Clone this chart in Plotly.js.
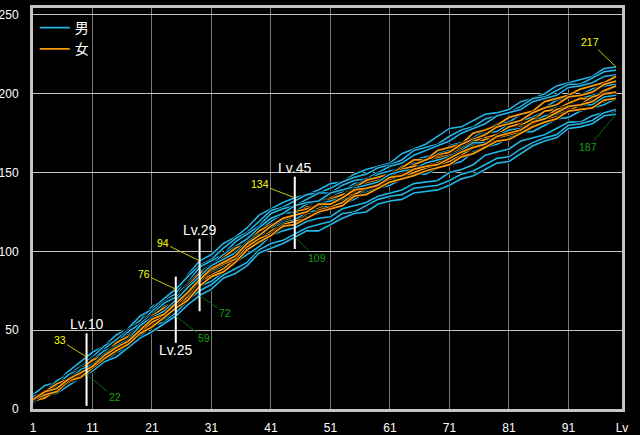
<!DOCTYPE html>
<html><head><meta charset="utf-8">
<script src="https://cdn.plot.ly/plotly-3.0.1.min.js"></script>
<style>html,body{margin:0;padding:0;background:#000;}#chart{width:640px;height:435px;}</style>
</head><body><div id="chart"></div>
<script>
// Levels sampled (odd levels)
const levels = [1,3,5,7,9,11,13,15,17,19,21,23,25,27,29,31,33,35,37,39,41,43,45,47,49,51,53,55,57,59,61,63,65,67,69,71,73,75,77,79,81,83,85,87,89,91,93,95,97,99];

// 男 (male) series
const male1 = [9,15,17,24,30,36,40,47,51,56,65,69,73,85,94,98,105,109,115,123,127,131,134,136,139,143,144,149,152,154,156,162,165,168,173,178,179,183,187,188,190,195,197,200,205,207,209,211,216,217];
const male2 = [8,11,18,22,27,33,40,44,51,59,63,70,76,84,91,95,102,108,112,119,126,128,132,136,137,140,144,147,149,153,155,158,164,166,168,173,177,179,184,186,188,192,197,198,202,206,206,210,214,215];
const male3 = [8,11,15,22,27,31,38,44,50,54,62,68,71,80,90,94,98,106,111,116,124,127,129,133,137,137,142,145,146,150,154,156,161,164,167,170,175,178,181,186,188,190,195,197,199,204,205,207,211,212];
const male4 = [5,11,15,21,25,32,36,42,49,54,60,67,71,77,86,92,95,101,108,113,119,124,125,130,132,134,138,143,144,149,151,153,158,160,162,167,169,172,177,181,182,187,189,191,196,198,199,203,205,206];
const male5 = [5,10,12,19,25,28,35,40,44,53,58,62,69,77,84,91,95,99,106,111,115,120,124,125,130,132,134,140,142,144,149,151,152,156,158,160,164,169,169,173,177,178,182,186,187,192,193,193,198,199];
const male6 = [8,10,14,20,23,27,34,38,44,50,55,59,65,74,80,86,92,95,101,108,112,115,120,122,124,129,130,133,138,140,142,146,149,149,153,155,157,163,166,168,172,176,176,180,184,185,189,191,193,197];
const male7 = [5,10,12,16,22,26,30,37,41,46,54,57,61,69,78,81,87,93,98,103,110,113,115,119,121,122,127,129,131,135,137,139,143,144,145,150,152,155,161,163,165,170,172,174,178,182,182,186,188,189];
const male8 = [5,8,10,17,20,24,30,36,39,46,53,55,61,69,75,79,85,89,93,101,105,107,111,115,117,119,124,125,129,133,135,136,140,141,142,145,149,151,155,159,160,165,169,172,174,180,181,183,188,190];
const male9 = [4,8,10,15,20,24,30,33,39,45,49,54,59,66,72,76,83,86,91,99,102,105,109,113,113,117,121,124,125,130,132,133,137,138,139,142,146,148,152,156,157,162,167,170,172,178,179,181,186,187];
const male10 = [5,10,15,19,26,30,34,42,46,52,59,65,68,79,87,91,98,103,108,115,121,124,129,131,132,137,139,141,146,147,149,154,156,157,162,164,166,171,175,176,181,183,185,189,191,193,197,199,201,205];
const male11 = [8,10,15,22,25,31,37,40,47,52,57,63,67,74,83,87,91,98,102,109,115,118,120,125,126,130,133,135,139,143,144,148,151,152,154,159,160,166,170,172,174,179,180,184,188,190,192,196,198,199];

// 女 (female) series
const female1 = [5,10,12,18,24,27,33,40,44,50,58,62,66,75,84,87,93,100,104,112,116,120,124,128,129,134,136,140,145,147,149,153,158,158,164,166,168,175,177,180,185,187,189,195,197,199,203,205,207,211];
const female2 = [5,8,11,18,22,26,33,38,42,51,56,60,67,72,81,87,90,96,104,109,113,119,120,124,128,130,134,139,141,144,149,150,155,158,161,163,168,171,174,179,181,183,188,191,193,198,199,201,206,208];
const female3 = [5,11,14,18,25,29,33,41,45,50,59,62,68,77,83,89,95,98,105,111,114,119,123,125,127,132,134,137,142,143,147,151,153,155,160,161,165,170,172,174,179,181,183,189,190,194,197,197,202,205];
const female4 = [5,8,14,17,21,28,32,37,44,48,53,60,64,71,81,85,89,95,103,107,113,118,119,124,126,128,134,137,139,143,147,148,153,154,156,161,163,166,172,174,176,180,184,185,190,192,193,198,200,201];
const female5 = [5,7,12,17,20,26,32,37,41,49,55,59,66,73,81,88,92,95,103,108,111,117,119,121,126,128,131,136,140,141,146,148,150,153,155,157,161,166,167,172,174,176,181,184,186,191,192,194,199,200];
const female6 = [6,11,16,19,25,31,34,42,46,51,59,64,68,78,86,90,96,102,105,113,117,120,125,127,129,133,136,138,143,145,147,152,154,154,159,161,163,168,171,172,177,179,181,185,187,189,193,193,195,199];
const female7 = [6,9,11,18,20,26,32,37,41,48,52,58,64,69,78,84,87,93,101,106,110,116,117,121,125,127,129,135,136,140,144,146,148,151,153,155,160,162,166,170,171,175,179,182,184,189,190,191,196,197];
const female8 = [6,11,13,19,23,27,34,39,43,50,57,60,67,74,82,89,93,97,105,110,116,121,123,125,130,130,134,139,140,142,147,148,152,154,155,159,163,166,168,173,175,177,182,184,188,192,193,195,200,201];

// Marked levels with their max / min values
const markLevels = [10, 25, 29, 45];
const markMax = [33, 76, 94, 134];
const markMin = [22, 59, 72, 109];
const endLevel = 99, endMax = 217, endMin = 187;

const xTickVals = [1,11,21,31,41,51,61,71,81,91,100];
const xTickText = ['1','11','21','31','41','51','61','71','81','91','Lv'];
const yTickVals = [0,50,100,150,200,250];

const CYAN = '#22b6e6', ORANGE = '#f79a0c';
// drawing order: outer male lines, then female lines with a few male lines between
const drawOrder = [
  [male1,'m'],[male2,'m'],[male3,'m'],[male7,'m'],[male8,'m'],[male9,'m'],[male4,'m'],[male10,'m'],
  [female1,'f'],[female2,'f'],[male6,'m'],[female3,'f'],[female4,'f'],[male11,'m'],[female5,'f'],
  [female6,'f'],[male5,'m'],[female7,'f'],[female8,'f']
];
const traces = [];
let shownM = false, shownF = false;
drawOrder.forEach(([vals, g]) => {
  const isM = g === 'm';
  const color = isM ? CYAN : ORANGE;
  const name = isM ? '男' : '女';
  let show = false;
  if (isM && !shownM) { show = true; shownM = true; }
  if (!isM && !shownF) { show = true; shownF = true; }
  traces.push({x: levels, y: vals, mode: 'lines', line: {color: '#000', width: 3.2}, hoverinfo: 'skip', showlegend: false});
  traces.push({x: levels, y: vals, mode: 'lines', line: {color: color, width: isM ? 1.6 : 1.8}, name: name,
    legendgroup: name, showlegend: show, legendrank: isM ? 1 : 2});
});

// style: vertical marker line extents (below min, above max) and label placement
const lineExt = [[20, 15, 'top'], [17, 8, 'bottom'], [10, 14, 'top'], [7.5, 13.4, 'top']];
const maxOff = [[-27, -17], [-32, -15], [-37, -18], [-35, -13.5]];
const minOff = [[28, 23], [28, 22], [25, 17.5], [22, 21]];

const shapes = [];
const annotations = [];
const lblFont = {family: 'Liberation Sans, Arial, sans-serif', size: 14, color: '#ffffff'};
const numFontY = {family: 'Liberation Sans, Arial, sans-serif', size: 10.5, color: '#ffff00'};
const numFontG = {family: 'Liberation Sans, Arial, sans-serif', size: 10.5, color: '#10a010'};
markLevels.forEach((lv, k) => {
  const y0 = markMin[k] - lineExt[k][0], y1 = markMax[k] + lineExt[k][1];
  shapes.push({type: 'line', xref: 'x', yref: 'y', x0: lv, x1: lv, y0: y0, y1: y1, line: {color: '#ffffff', width: 2}});
  const top = lineExt[k][2] === 'top';
  annotations.push({x: lv, y: top ? y1 : y0, xref: 'x', yref: 'y', text: 'Lv.' + lv, showarrow: false,
    yanchor: 'middle', yshift: top ? 9 : -7, font: lblFont});
  annotations.push({x: lv, y: markMax[k], text: String(markMax[k]), showarrow: true, arrowhead: 0, arrowwidth: 1,
    arrowcolor: '#c8c800', ax: maxOff[k][0], ay: maxOff[k][1], font: numFontY, borderpad: 1});
  annotations.push({x: lv, y: markMin[k], text: String(markMin[k]), showarrow: true, arrowhead: 0, arrowwidth: 1,
    arrowcolor: '#0a6a0a', ax: minOff[k][0], ay: minOff[k][1], font: numFontG, borderpad: 1});
});
annotations.push({x: endLevel, y: endMax, text: String(endMax), showarrow: true, arrowhead: 0, arrowwidth: 1,
  arrowcolor: '#c8c800', ax: -26, ay: -25, font: numFontY, borderpad: 1});
annotations.push({x: endLevel, y: endMin, text: String(endMin), showarrow: true, arrowhead: 0, arrowwidth: 1,
  arrowcolor: '#0a6a0a', ax: -28, ay: 33, font: numFontG, borderpad: 1});

const tickFont = {family: 'Liberation Sans, Arial, sans-serif', size: 12, color: '#ffffff'};
const layout = {
  width: 640, height: 435,
  paper_bgcolor: '#000', plot_bgcolor: '#000',
  margin: {l: 33, r: 18, t: 8, b: 26, pad: 0},
  showlegend: true,
  legend: {x: 0.003, y: 0.99, xanchor: 'left', yanchor: 'top', bgcolor: 'rgba(0,0,0,0)', traceorder: 'normal',
    font: {family: 'Noto Sans CJK JP, sans-serif', size: 14, color: '#ffffff'}, itemwidth: 30, tracegroupgap: 0},
  xaxis: {range: [1, 100], tickvals: xTickVals, ticktext: xTickText, showgrid: true, gridcolor: '#7a7a7a', gridwidth: 1,
    zeroline: false, showline: true, linecolor: '#c4c4c4', linewidth: 3, mirror: true, ticks: '',
    tickfont: tickFont, ticklabelstandoff: 6, fixedrange: true},
  yaxis: {range: [0, 254.4], tickvals: yTickVals, showgrid: true, gridcolor: '#c4c4c4', gridwidth: 1,
    zeroline: false, showline: true, linecolor: '#c4c4c4', linewidth: 3, mirror: true, ticks: '',
    tickfont: tickFont, ticklabelstandoff: 9, fixedrange: true},
  shapes: shapes,
  annotations: annotations
};
Plotly.newPlot('chart', traces, layout, {staticPlot: true, displayModeBar: false});
</script>
</body></html>
